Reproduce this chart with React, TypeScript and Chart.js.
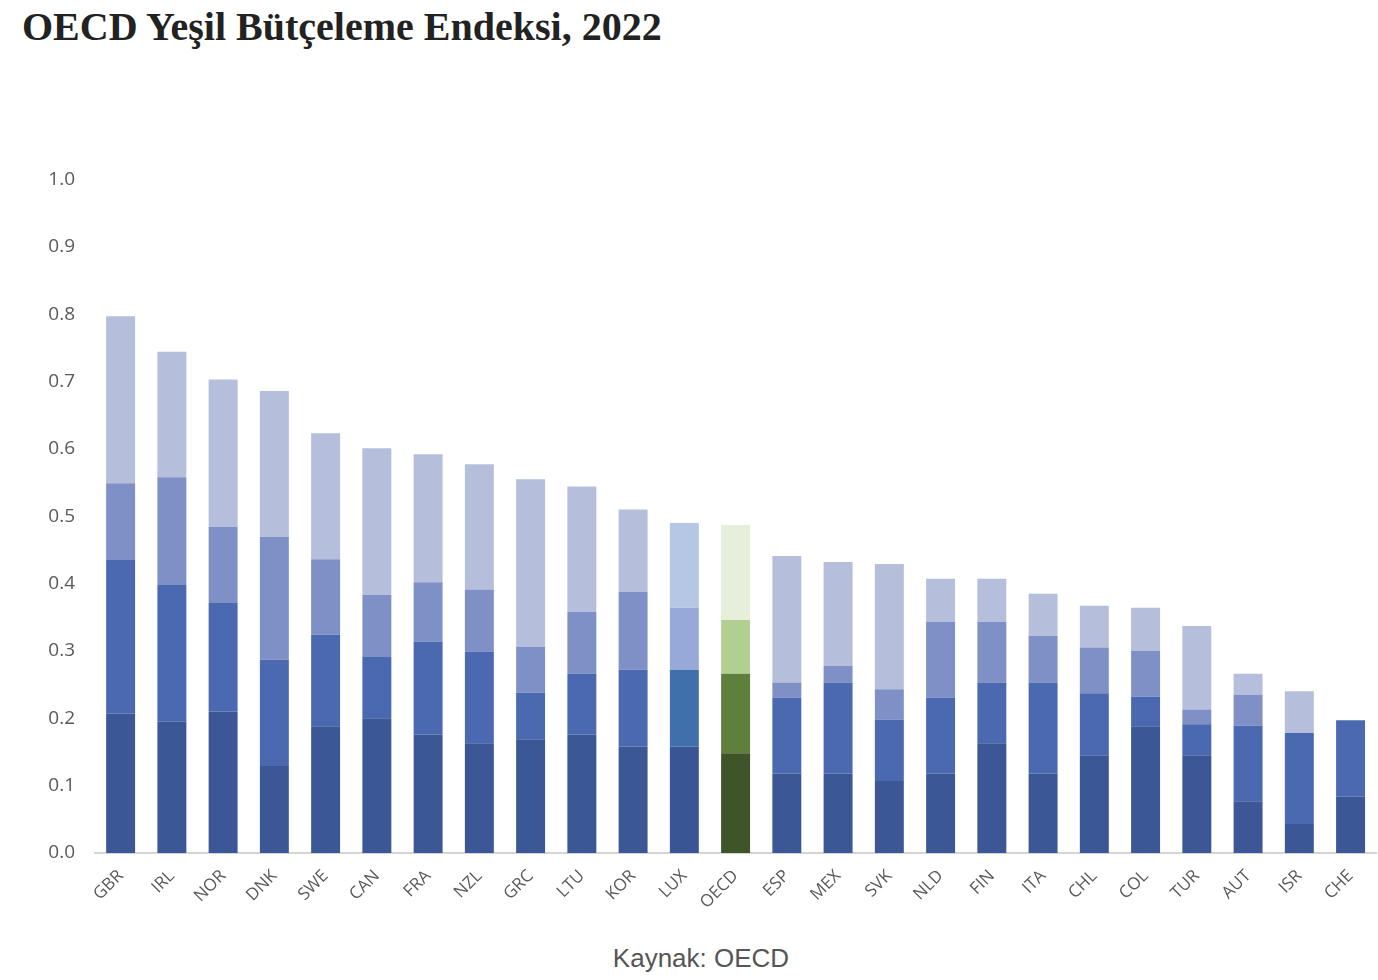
import React, { useEffect, useRef } from "react";
import { Chart, registerables } from "chart.js";

Chart.register(...registerables);

const categories = [
  "GBR", "IRL", "NOR", "DNK", "SWE", "CAN", "FRA", "NZL", "GRC", "LTU", "KOR", "LUX", "OECD",
  "ESP", "MEX", "SVK", "NLD", "FIN", "ITA", "CHL", "COL", "TUR", "AUT", "ISR", "CHE",
];

const tier1 = [0.207, 0.195, 0.21, 0.129, 0.188, 0.2, 0.176, 0.163, 0.169, 0.176, 0.158, 0.158, 0.148,
  0.118, 0.118, 0.107, 0.118, 0.163, 0.118, 0.145, 0.188, 0.145, 0.077, 0.043, 0.084];
const tier2 = [0.228, 0.203, 0.161, 0.158, 0.136, 0.091, 0.138, 0.136, 0.069, 0.09, 0.114, 0.114, 0.118,
  0.113, 0.135, 0.091, 0.113, 0.09, 0.135, 0.092, 0.044, 0.046, 0.112, 0.135, 0.113];
const tier3 = [0.114, 0.16, 0.113, 0.182, 0.112, 0.092, 0.088, 0.092, 0.068, 0.092, 0.116, 0.092, 0.08,
  0.022, 0.025, 0.045, 0.112, 0.09, 0.069, 0.068, 0.068, 0.022, 0.046, 0, 0];
const tier4 = [0.248, 0.186, 0.219, 0.217, 0.187, 0.218, 0.19, 0.186, 0.249, 0.186, 0.122, 0.126, 0.141,
  0.188, 0.154, 0.186, 0.064, 0.064, 0.063, 0.062, 0.064, 0.124, 0.031, 0.062, 0];

const yTicks = [0, 0.1, 0.2, 0.3, 0.4, 0.5, 0.6, 0.7, 0.8, 0.9, 1.0];

const baseColors = ["#3b5795", "#4a69b0", "#7f90c7", "#b5bfdc"];
const luxColors = ["#3a5594", "#3f70ab", "#97a9d8", "#b6c7e6"];
const oecdColors = ["#3e5429", "#5f7f3c", "#b1cf90", "#e5efd9"];

function colorsFor(level: number): string[] {
  return categories.map((c) =>
    c === "OECD" ? oecdColors[level] : c === "LUX" ? luxColors[level] : baseColors[level]
  );
}

export default function App() {
  const ref = useRef<HTMLCanvasElement | null>(null);

  useEffect(() => {
    if (!ref.current) return;
    const series = [tier1, tier2, tier3, tier4];
    const chart = new Chart(ref.current, {
      type: "bar",
      data: {
        labels: categories,
        datasets: series.map((d, i) => ({
          label: "S" + (i + 1),
          data: d,
          backgroundColor: colorsFor(i),
          borderWidth: 0,
          barPercentage: 0.565,
          categoryPercentage: 1,
          stack: "a",
        })),
      },
      options: {
        responsive: false,
        animation: false,
        devicePixelRatio: 1,
        layout: { padding: { top: 17, left: 0, right: 0, bottom: 0 } },
        plugins: {
          legend: { display: false },
          tooltip: { enabled: false },
          title: { display: false },
        },
        scales: {
          x: {
            stacked: true,
            grid: { display: false, drawTicks: false },
            border: { display: true, color: "#d4d4d4", width: 2 },
            ticks: {
              color: "#595959",
              font: { family: "'Open Sans', sans-serif", size: 17 },
              minRotation: 45,
              maxRotation: 45,
              padding: 13,
              autoSkip: false,
            },
            afterFit: (s: any) => {
              s.height = 70;
            },
          },
          y: {
            stacked: true,
            min: 0,
            max: 1,
            grid: { display: false, drawTicks: false },
            border: { display: false },
            afterBuildTicks: (s: any) => {
              s.ticks = yTicks.map((v) => ({ value: v }));
            },
            ticks: {
              color: "#595959",
              font: { family: "'Open Sans', sans-serif", size: 19 },
              padding: 20,
              callback: (v: any) => Number(v).toFixed(1),
            },
            afterFit: (s: any) => {
              s.width = 95;
            },
          },
        },
      },
    });
    return () => chart.destroy();
  }, []);

  return (
    <div
      style={{
        position: "fixed",
        left: 0,
        top: 0,
        width: 1378,
        height: 980,
        background: "#ffffff",
        overflow: "hidden",
      }}
    >
      <div
        style={{
          position: "absolute",
          left: 22,
          top: 3,
          fontFamily: "'Liberation Serif', serif",
          fontWeight: 700,
          fontSize: 40,
          color: "#222222",
          whiteSpace: "nowrap",
        }}
      >
        OECD Yeşil Bütçeleme Endeksi, 2022
      </div>
      <div style={{ position: "absolute", left: 0, top: 148, width: 1378, height: 775 }}>
        <canvas ref={ref} width={1378} height={775} />
      </div>
      <div
        style={{
          position: "absolute",
          left: 0,
          width: 1402,
          top: 943,
          textAlign: "center",
          fontFamily: "'Liberation Sans', sans-serif",
          fontSize: 26,
          color: "#555555",
        }}
      >
        Kaynak: OECD
      </div>
    </div>
  );
}
